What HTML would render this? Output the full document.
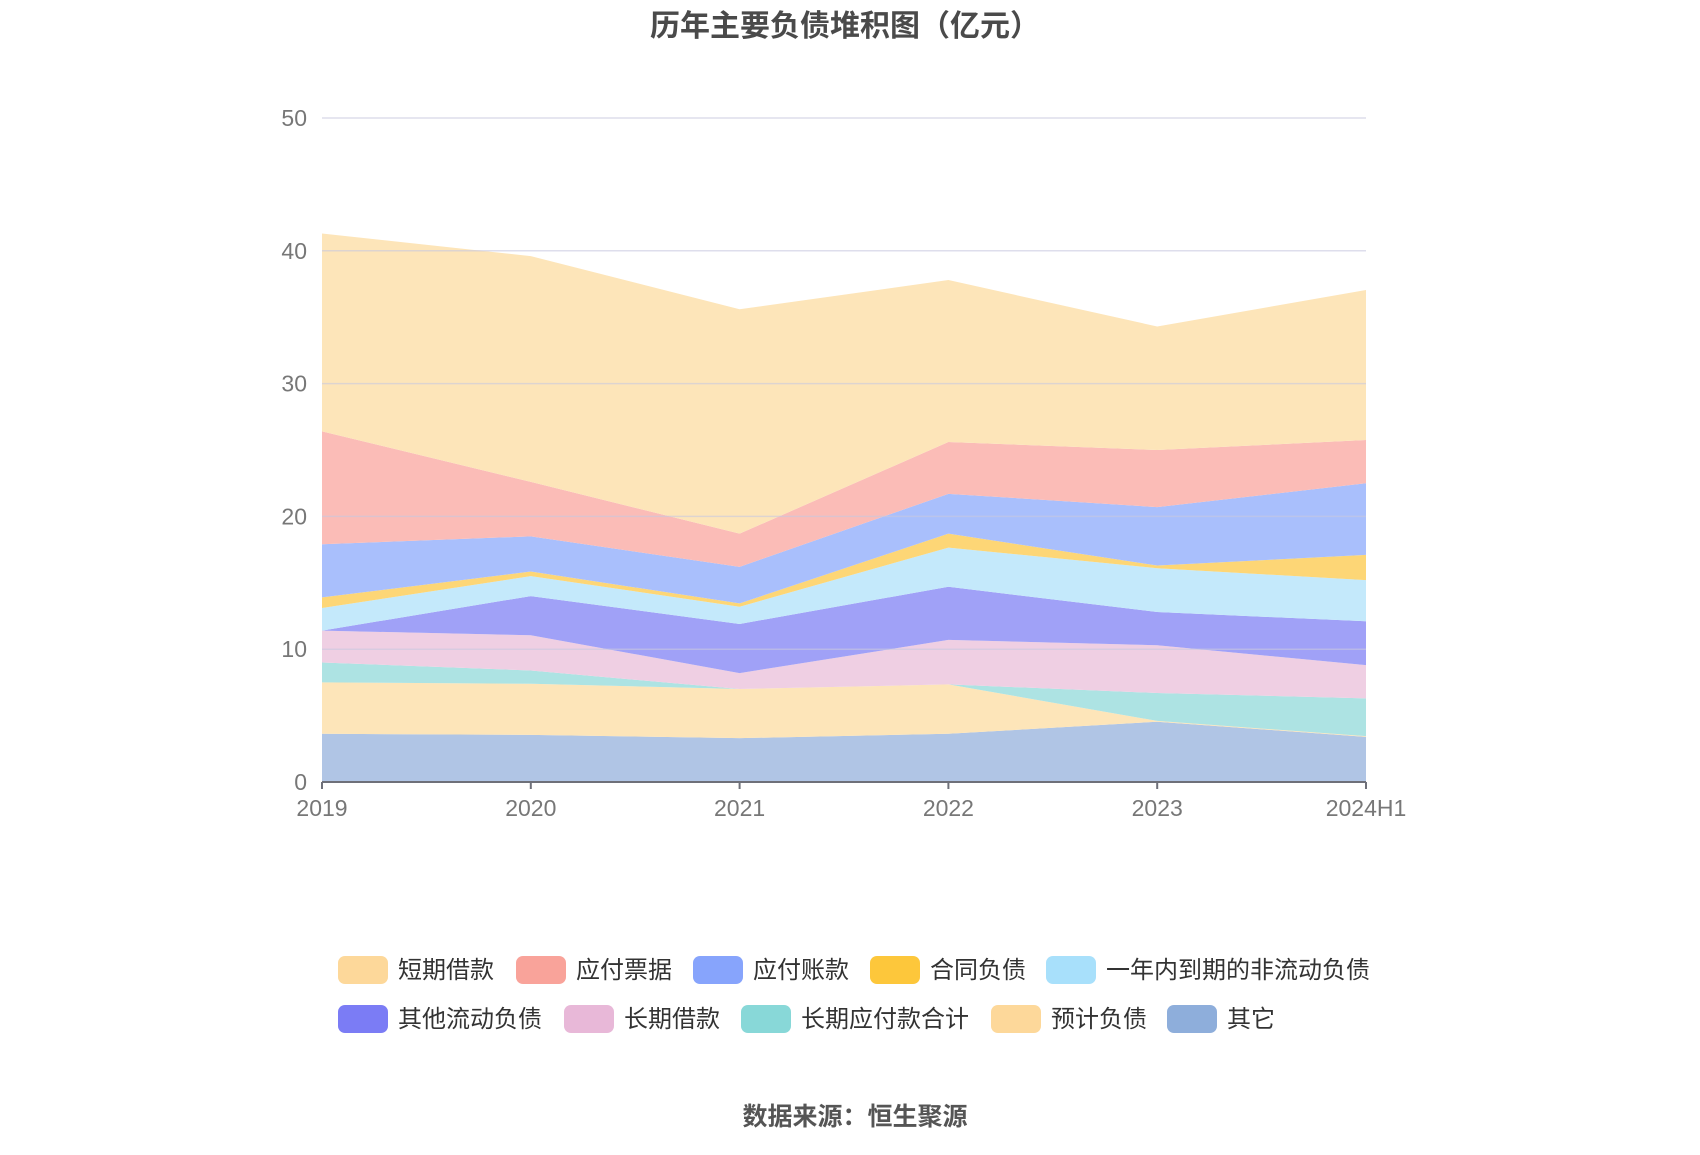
<!DOCTYPE html>
<html><head><meta charset="utf-8"><style>
body{margin:0;background:#fff;width:1700px;height:1150px;overflow:hidden;font-family:"Liberation Sans","Noto Sans CJK SC",sans-serif}
</style></head><body>
<svg id="chart" width="1700" height="1150" xmlns="http://www.w3.org/2000/svg">
<text x="845" y="36" text-anchor="middle" font-size="30" font-weight="bold" fill="#4a4a4a" font-family="Liberation Sans, Noto Sans CJK SC, sans-serif">历年主要负债堆积图（亿元）</text>
<g id="plot"></g>
<g id="legend"></g>
<text x="855" y="1125" text-anchor="middle" font-size="25" font-weight="bold" fill="#555" font-family="Liberation Sans, Noto Sans CJK SC, sans-serif">数据来源：恒生聚源</text>
</svg>
<script>
const categories = ["2019","2020","2021","2022","2023","2024H1"];
const seriesNames = ["其它","预计负债","长期应付款合计","长期借款","其他流动负债","一年内到期的非流动负债","合同负债","应付账款","应付票据","短期借款"];
const sOther = [3.63,3.55,3.3,3.63,4.54,3.4];
const sProvision = [3.87,3.85,3.7,3.72,0.06,0.05];
const sLongPayable = [1.5,1.0,0,0,2.1,2.85];
const sLongLoan = [2.4,2.65,1.2,3.35,3.6,2.5];
const sOtherCurrent = [0,2.95,3.7,4.0,2.5,3.3];
const sDueInYear = [1.7,1.5,1.3,2.95,3.3,3.1];
const sContract = [0.8,0.35,0.25,1.05,0.2,1.9];
const sAccounts = [4.0,2.65,2.75,3.0,4.4,5.4];
const sNotes = [8.5,4.1,2.5,3.9,4.3,3.25];
const sShortLoan = [14.9,17.0,16.9,12.2,9.3,11.3];
const yTicks = [0,10,20,30,40,50];
const seriesValues = [sOther,sProvision,sLongPayable,sLongLoan,sOtherCurrent,sDueInYear,sContract,sAccounts,sNotes,sShortLoan];
const fills = ["#b0c5e5","#fde5b9","#ade3e3","#efcfe3","#a0a1f7","#c4e9fb","#fdd676","#a9bffc","#fbbcb7","#fde5b9"];
const legendColors = {"短期借款":"#fdd89a","应付票据":"#f9a39a","应付账款":"#87a4fc","合同负债":"#fdc73b","一年内到期的非流动负债":"#a8e0fb","其他流动负债":"#7b7cf5","长期借款":"#e8b8d8","长期应付款合计":"#88d8d8","预计负债":"#fdd89a","其它":"#8eaedb"};
const NS="http://www.w3.org/2000/svg";
const x0=322,x1=1366,y0=782,yTop=118,yMax=50;
const xs=i=>x0+(x1-x0)*i/(categories.length-1);
const ys=v=>y0-(y0-yTop)*v/yMax;
const plot=document.getElementById('plot');
function mk(tag,attrs){const e=document.createElementNS(NS,tag);for(const k in attrs)e.setAttribute(k,attrs[k]);return e;}
let base=categories.map(()=>0);
seriesValues.forEach((vals,si)=>{
  const top=base.map((b,i)=>b+vals[i]);
  let pts=top.map((v,i)=>xs(i)+','+ys(v));
  for(let i=categories.length-1;i>=0;i--)pts.push(xs(i)+','+ys(base[i]));
  const p=mk('polygon',{points:pts.join(' '),fill:fills[si]});
  
  
  plot.appendChild(p);
  base=top;
});
yTicks.forEach(t=>{
  if(t>0){const g=mk('line',{x1:x0,x2:x1,y1:ys(t),y2:ys(t),stroke:'#c8c8e0','stroke-opacity':0.6,'stroke-width':1.5});
  
  
  plot.appendChild(g);}
  const l=mk('text',{x:307,y:ys(t)+8,'text-anchor':'end','font-size':23,fill:'#777'});
  l.textContent=t;
  
  
  plot.appendChild(l);
});
const ax=mk('line',{x1:x0,x2:x1,y1:y0,y2:y0,stroke:'#6e7079','stroke-width':2});


plot.appendChild(ax);
categories.forEach((c,i)=>{
  const tk=mk('line',{x1:xs(i),x2:xs(i),y1:y0,y2:y0+7,stroke:'#6e7079','stroke-width':2});
  
  
  plot.appendChild(tk);
  const l=mk('text',{x:xs(i),y:816,'text-anchor':'middle','font-size':23,fill:'#777'});
  l.textContent=c;
  
  
  plot.appendChild(l);
});
const legendRows=[[["短期借款",338],["应付票据",516],["应付账款",693],["合同负债",870],["一年内到期的非流动负债",1046]],[["其他流动负债",338],["长期借款",564],["长期应付款合计",741],["预计负债",991],["其它",1167]]];
const lg=document.getElementById('legend');
legendRows.forEach((row,ri)=>{
  const cy=ri?1019:970;
  row.forEach(([name,x])=>{
    const g=mk('g',{});
    
    
    const r=mk('rect',{x:x,y:cy-14,width:50,height:28,rx:7,fill:legendColors[name]});
    
    
    const t=mk('text',{x:x+60,y:cy+8,'font-size':24,fill:'#333'});
    t.textContent=name;
    
    
    g.appendChild(r);g.appendChild(t);lg.appendChild(g);
  });
});
</script>
</body></html>
